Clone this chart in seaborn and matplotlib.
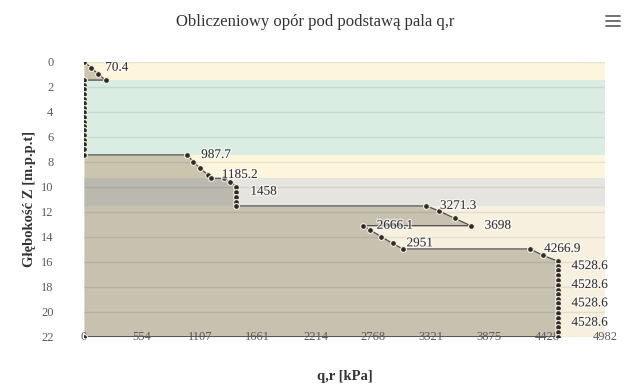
import pandas as pd
import seaborn as sns
import matplotlib.pyplot as plt
from matplotlib.lines import Line2D
import matplotlib.patheffects as pe

# pile base resistance q,r [kPa] vs depth Z [m]
depth = [0.0, 0.48, 1.0, 1.47, 1.47, 1.85, 2.2, 2.6, 2.95, 3.3, 3.7, 4.05, 4.4, 4.8,
         5.15, 5.5, 5.9, 6.25, 6.6, 7.0, 7.46, 7.46, 8.0, 8.5, 9.06, 9.33, 9.33,
         9.6, 10.0, 10.4, 10.8, 11.2, 11.54, 11.54, 11.94, 12.53, 13.12, 13.12,
         13.46, 14.0, 14.53, 14.98, 14.98, 15.5, 15.95, 16.35, 16.7, 17.1, 17.5,
         17.86, 18.25, 18.6, 18.95, 19.33, 19.7, 20.1, 20.5, 20.88, 21.25, 21.6,
         22.0, 22.0]
qr = [0, 70.4, 136, 207, 0, 0, 0, 0, 0, 0, 0, 0, 0, 0,
      0, 0, 0, 0, 0, 0, 0, 987.7, 1044, 1107, 1185.2, 1218, 1339,
      1393, 1458, 1458, 1458, 1458, 1458, 3271.3, 3397, 3543, 3698, 2666.1,
      2737, 2841, 2951, 3048, 4266.9, 4389, 4528.6, 4528.6, 4528.6, 4528.6, 4528.6,
      4528.6, 4528.6, 4528.6, 4528.6, 4528.6, 4528.6, 4528.6, 4528.6, 4528.6, 4528.6, 4528.6,
      4528.6, 0]

# labelled points
label_depth = [0.48, 7.46, 9.06, 10.4, 11.54, 13.12, 13.12, 14.53, 14.98, 16.35, 17.86, 19.33, 20.88]
label_q = [70.4, 987.7, 1185.2, 1458, 3271.3, 3698, 2666.1, 2951, 4266.9, 4528.6, 4528.6, 4528.6, 4528.6]

# soil layers (plot bands)
layer_top = [0.0, 1.47, 7.46, 9.3, 11.54]
layer_bottom = [1.47, 7.46, 9.3, 11.54, 22.0]
layer_color = ['#fdf5dc', '#d9ede2', '#fdf5dc', '#e6e4de', '#f7f0de']

x_ticks = [0, 553.6, 1107.1, 1660.7, 2214.2, 2767.8, 3321.3, 3874.9, 4428.4, 4982]
x_labels = ['0', '554', '1107', '1661', '2214', '2768', '3321', '3875', '4428', '4982']
y_ticks = [0, 2, 4, 6, 8, 10, 12, 14, 16, 18, 20, 22]

df = pd.DataFrame({'z': depth, 'q': qr})

sns.set_style("white")
plt.rcParams['font.family'] = ['Liberation Serif', 'DejaVu Serif']

fig = plt.figure(figsize=(6.26, 3.91), dpi=100)
ax = fig.add_axes([0.1342, 0.1389, 0.8323, 0.7033])

for top, bottom, color in zip(layer_top, layer_bottom, layer_color):
    ax.axhspan(top, bottom, color=color, lw=0, zorder=0)

ax.fill_betweenx(df['z'], 0, df['q'], color='#3b3628', alpha=0.25, lw=0, zorder=1)

sns.lineplot(
    data=df, x='q', y='z', sort=False, estimator=None, orient='y',
    color='#505050', lw=0.9, marker='o', markersize=4.2,
    markerfacecolor='#2f2b26', markeredgecolor='#f4efe2', markeredgewidth=0.8,
    ax=ax, zorder=3,
)

for z, q in zip(label_depth, label_q):
    ax.annotate(f"{q:g}", (q, z), xytext=(10, 0), textcoords='offset points',
                ha='left', va='center', fontsize=9.5, color='#333333', zorder=4,
                path_effects=[pe.withStroke(linewidth=2, foreground='white', alpha=0.6)])

ax.set_xlim(0, 4982)
ax.set_ylim(22, 0)
ax.set_xticks(x_ticks)
ax.set_xticklabels(x_labels)
ax.set_yticks(y_ticks)
ax.grid(axis='y', color='black', alpha=0.08, lw=1)
ax.grid(axis='x', visible=False)
ax.set_axisbelow(False)
for s in ax.spines.values():
    s.set_visible(False)

ax.tick_params(axis='both', length=0, labelsize=9, labelcolor='#5a5a5a')
ax.tick_params(axis='y', pad=22)
ax.tick_params(axis='x', pad=0)
for lbl in ax.get_xticklabels():
    lbl.set_va('center')

ax.set_xlabel('q,r [kPa]', fontsize=10.5, fontweight='bold', color='#333333')
ax.xaxis.set_label_coords(0.5, -0.143)
ax.xaxis.label.set_va('center')
ax.set_ylabel('Głębokość Z [m.p.p.t]', fontsize=10.5, fontweight='bold', color='#333333')
ax.yaxis.set_label_coords(-0.104, 0.5)
ax.yaxis.label.set_va('center')

fig.text(0.503, 0.945, 'Obliczeniowy opór pod podstawą pala q,r', ha='center', va='center',
         fontsize=12, color='#333333')

# hamburger menu icon
for yy in [0.958, 0.946, 0.934]:
    fig.add_artist(Line2D([0.968, 0.99], [yy, yy], color='#666666', lw=1.3))

fig.savefig('out.png', dpi=100)
